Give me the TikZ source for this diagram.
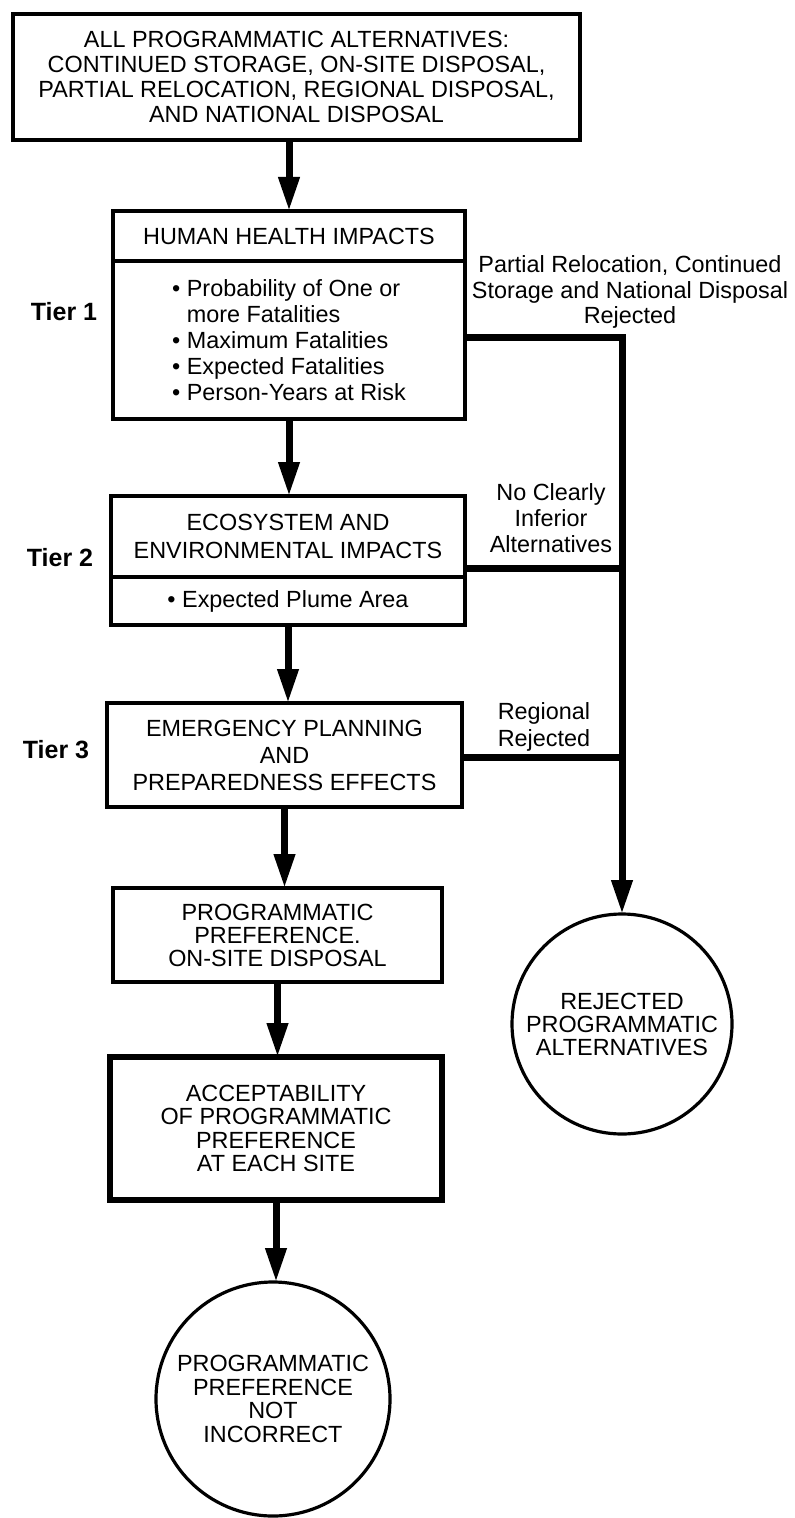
\documentclass[tikz,border=0pt]{standalone}
\usepackage{fontspec}
\setmainfont{Liberation Sans}
\usetikzlibrary{arrows.meta,positioning,calc}
\newcommand{\fsz}[1]{\fontsize{11.7}{#1}\selectfont}
\tikzset{
	flow chart/.style={
		x=0.5pt, y=-0.5pt,
		every node/.style={inner sep=0pt, outer sep=0pt, align=center, font=\fsz{12}},
		line join=miter
		},
	box/.style 2 args={draw, line width=1.8pt, minimum width=#1*0.5pt, minimum height=#2*0.5pt},
	heavy box/.style={line width=3.3pt},
	goal/.style={draw, circle, line width=1.6pt, minimum size=#1*0.5pt},
	tier/.style={font=\fontsize{12.5}{14}\selectfont\bfseries},
	link/.style={line width=3.5pt},
	ar/.style={link, -{Triangle[width=10pt,length=17pt]}}
}

\begin{document}
\begin{tikzpicture}[flow chart]
  \useasboundingbox (0,0) rectangle (795,1518);
  % main column
  \node[box={567}{126}, font={\fsz{12.5}}] (all) at (296.5,77)
    {ALL PROGRAMMATIC ALTERNATIVES:\\CONTINUED STORAGE, ON-SITE DISPOSAL,\\PARTIAL RELOCATION, REGIONAL DISPOSAL,\\AND NATIONAL DISPOSAL};
  \node[box={352}{50}] (hhhead) at (289,236) {HUMAN HEALTH IMPACTS};
  \node[box={352}{158}, align=left, font={\fsz{13}}] (hhbody) at (289,340)
    {\textbullet\ Probability of One or\\\hphantom{\textbullet\ }more Fatalities\\\textbullet\ Maximum Fatalities\\\textbullet\ Expected Fatalities\\\textbullet\ Person-Years at Risk};
  \node[box={354}{81}, font={\fsz{14}}] (echead) at (288,536.5) {ECOSYSTEM AND\\ENVIRONMENTAL IMPACTS};
  \node[box={354}{48}] (ecbody) at (288,601) {\textbullet\ Expected Plume Area};
  \node[box={355}{104}, font={\fsz{13.5}}] (ep) at (284.5,755) {EMERGENCY PLANNING\\AND\\PREPAREDNESS EFFECTS};
  \node[box={329}{94}, font={\fsz{11.5}}] (pp) at (277.5,935) {PROGRAMMATIC\\PREFERENCE.\\ON-SITE DISPOSAL};
  \node[box={332}{143}, heavy box, font={\fsz{11.7}}] (acc) at (276,1128.5)
    {ACCEPTABILITY\\OF PROGRAMMATIC\\PREFERENCE\\AT EACH SITE};
  \node[goal=234, font={\fsz{11.7}}] (fin) at (273,1399) {PROGRAMMATIC\\PREFERENCE\\NOT\\INCORRECT};
  \node[goal=220, font={\fsz{11.5}}] (rej) at (622,1024) {REJECTED\\PROGRAMMATIC\\ALTERNATIVES};

  % tiers and side notes
  \node[tier] (t1) at (64,312) {Tier 1};
  \node[tier] (t2) at (60,558) {Tier 2};
  \node[tier] (t3) at (56,750) {Tier 3};
  \node[font={\fsz{12.75}}] (n1) at (630,292) {Partial Relocation, Continued\\Storage and National Disposal\\Rejected};
  \node[font={\fsz{13}}] (n2) at (551,518) {No Clearly\\Inferior\\Alternatives};
  \node[font={\fsz{13.5}}] (n3) at (544,726.5) {Regional\\Rejected};

  \coordinate (j1) at (622,338);
  \coordinate (j2) at (622,568);
  \coordinate (j3) at (622,757);

  \draw[ar] (all.south -| hhhead) -- (hhhead.north);
  \draw[ar] (hhbody.south) -- (hhbody.south |- echead.north);
  \draw[ar] (ecbody.south) -- (ecbody.south |- ep.north);
  \draw[ar] (ep.south) -- (ep.south |- pp.north);
  \draw[ar] (pp.south) -- (pp.south |- acc.north);
  \draw[ar] (acc.south) -- (acc.south |- fin.north);

  \draw[ar] (j1 -| hhbody.east) -- (j1) -- (rej.north);
  \draw[link] (j2 -| echead.east) -- (j2);
  \draw[link] (j3 -| ep.east) -- (j3);
\end{tikzpicture}
\end{document}
